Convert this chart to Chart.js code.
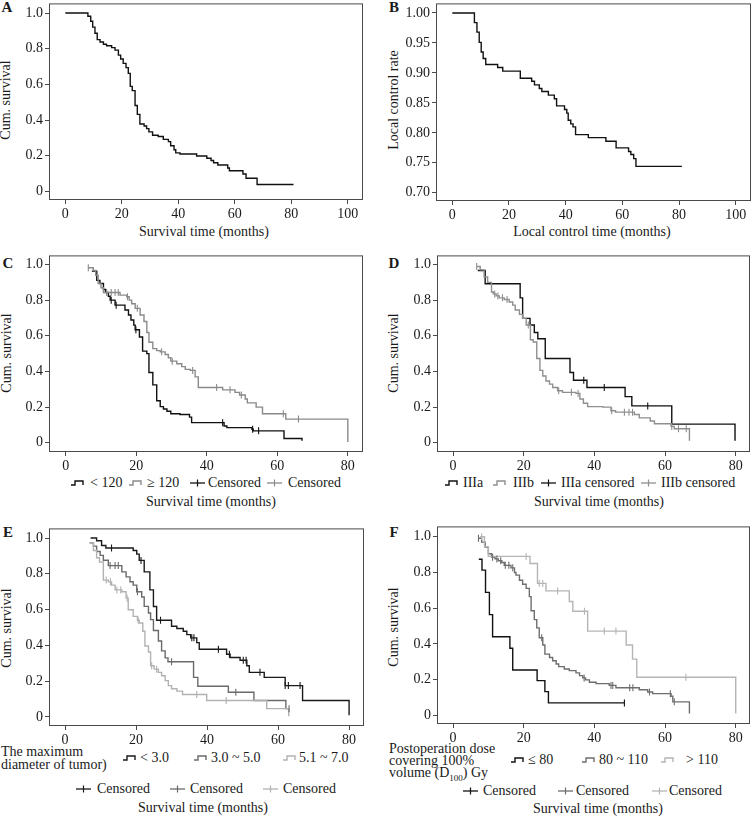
<!DOCTYPE html>
<html><head><meta charset="utf-8">
<script src="https://cdn.jsdelivr.net/npm/chart.js@4.4.1/dist/chart.umd.min.js"></script>
<style>
html,body{margin:0;padding:0;background:#fff;width:752px;height:818px;overflow:hidden;}
body{position:relative;font-family:"Liberation Serif","Times New Roman",serif;font-size:14px;color:#1a1a1a;}
canvas{position:absolute;}
.t{position:absolute;white-space:nowrap;line-height:1;transform:translate(-50%,-50%);}
.l{position:absolute;white-space:nowrap;line-height:1;transform:translateY(-50%);}
.yt{position:absolute;white-space:nowrap;line-height:1;transform:translate(-50%,-50%) rotate(-90deg);}
.lab{position:absolute;font-weight:bold;font-size:15px;line-height:1;transform:translate(-50%,-50%);}
svg.sym{position:absolute;transform:translateY(-50%);overflow:visible;}
sub{font-size:9px;line-height:0;}
</style></head><body>

<!-- panel letters -->
<div class="lab" style="left:7px;top:7px">A</div>
<div class="lab" style="left:394px;top:7px">B</div>
<div class="lab" style="left:8px;top:263px">C</div>
<div class="lab" style="left:394px;top:263px">D</div>
<div class="lab" style="left:8px;top:532px">E</div>
<div class="lab" style="left:394px;top:532px">F</div>

<!-- y axis titles -->
<div class="yt" style="left:6px;top:100px">Cum. survival</div>
<div class="yt" style="left:394px;top:100px">Local control rate</div>
<div class="yt" style="left:7px;top:353px">Cum. survival</div>
<div class="yt" style="left:394px;top:353px">Cum. survival</div>
<div class="yt" style="left:7px;top:628px">Cum. survival</div>
<div class="yt" style="left:394px;top:627px">Cum. survival</div>

<!-- x axis titles -->
<div class="t" style="left:204px;top:232px">Survival time (months)</div>
<div class="t" style="left:592px;top:232px">Local control time (months)</div>
<div class="t" style="left:211px;top:502px">Survival time (months)</div>
<div class="t" style="left:599px;top:502px">Survival time (months)</div>
<div class="t" style="left:203px;top:808px">Survival time (months)</div>
<div class="t" style="left:598px;top:809px">Survival time (months)</div>

<!-- legend C -->
<svg class="sym" width="13" height="10" style="left:71px;top:483px"><polyline points="0,7 4,7 4,3 12,3 12,7" fill="none" stroke="#111" stroke-width="1.4"/></svg>
<div class="l" style="left:90px;top:483px">&lt; 120</div>
<svg class="sym" width="13" height="10" style="left:129px;top:483px"><polyline points="0,7 4,7 4,3 12,3 12,7" fill="none" stroke="#8a8a8a" stroke-width="1.4"/></svg>
<div class="l" style="left:147px;top:483px">≥ 120</div>
<svg class="sym" width="15" height="10" style="left:190px;top:483px"><line x1="0" y1="5" x2="15" y2="5" stroke="#111" stroke-width="1.3"/><line x1="7.5" y1="1.5" x2="7.5" y2="8.5" stroke="#111" stroke-width="1.2"/></svg>
<div class="l" style="left:208px;top:483px">Censored</div>
<svg class="sym" width="15" height="10" style="left:267px;top:483px"><line x1="0" y1="5" x2="15" y2="5" stroke="#8a8a8a" stroke-width="1.3"/><line x1="7.5" y1="1.5" x2="7.5" y2="8.5" stroke="#8a8a8a" stroke-width="1.2"/></svg>
<div class="l" style="left:288px;top:483px">Censored</div>

<!-- legend D -->
<svg class="sym" width="13" height="10" style="left:445px;top:483px"><polyline points="0,7 4,7 4,3 12,3 12,7" fill="none" stroke="#111" stroke-width="1.4"/></svg>
<div class="l" style="left:463px;top:483px">IIIa</div>
<svg class="sym" width="13" height="10" style="left:493px;top:483px"><polyline points="0,7 4,7 4,3 12,3 12,7" fill="none" stroke="#8f8f8f" stroke-width="1.4"/></svg>
<div class="l" style="left:513px;top:483px">IIIb</div>
<svg class="sym" width="15" height="10" style="left:541px;top:483px"><line x1="0" y1="5" x2="15" y2="5" stroke="#111" stroke-width="1.3"/><line x1="7.5" y1="1.5" x2="7.5" y2="8.5" stroke="#111" stroke-width="1.2"/></svg>
<div class="l" style="left:561px;top:483px">IIIa censored</div>
<svg class="sym" width="15" height="10" style="left:641px;top:483px"><line x1="0" y1="5" x2="15" y2="5" stroke="#8f8f8f" stroke-width="1.3"/><line x1="7.5" y1="1.5" x2="7.5" y2="8.5" stroke="#8f8f8f" stroke-width="1.2"/></svg>
<div class="l" style="left:661px;top:483px">IIIb censored</div>

<!-- legend E -->
<div class="l" style="left:1px;top:752px">The maximum</div>
<div class="l" style="left:1px;top:765px">diameter of tumor)</div>
<svg class="sym" width="13" height="10" style="left:123px;top:758px"><polyline points="0,7 4,7 4,3 12,3 12,7" fill="none" stroke="#1a1a1a" stroke-width="1.4"/></svg>
<div class="l" style="left:140px;top:758px">&lt; 3.0</div>
<svg class="sym" width="13" height="10" style="left:194px;top:758px"><polyline points="0,7 4,7 4,3 12,3 12,7" fill="none" stroke="#6a6a6a" stroke-width="1.4"/></svg>
<div class="l" style="left:211px;top:758px">3.0 ~ 5.0</div>
<svg class="sym" width="13" height="10" style="left:283px;top:758px"><polyline points="0,7 4,7 4,3 12,3 12,7" fill="none" stroke="#b2b2b2" stroke-width="1.4"/></svg>
<div class="l" style="left:299px;top:758px">5.1 ~ 7.0</div>
<svg class="sym" width="15" height="10" style="left:76px;top:789px"><line x1="0" y1="5" x2="15" y2="5" stroke="#1a1a1a" stroke-width="1.3"/><line x1="7.5" y1="1.5" x2="7.5" y2="8.5" stroke="#1a1a1a" stroke-width="1.2"/></svg>
<div class="l" style="left:97px;top:789px">Censored</div>
<svg class="sym" width="15" height="10" style="left:170px;top:789px"><line x1="0" y1="5" x2="15" y2="5" stroke="#6a6a6a" stroke-width="1.3"/><line x1="7.5" y1="1.5" x2="7.5" y2="8.5" stroke="#6a6a6a" stroke-width="1.2"/></svg>
<div class="l" style="left:190px;top:789px">Censored</div>
<svg class="sym" width="15" height="10" style="left:263px;top:789px"><line x1="0" y1="5" x2="15" y2="5" stroke="#b2b2b2" stroke-width="1.3"/><line x1="7.5" y1="1.5" x2="7.5" y2="8.5" stroke="#b2b2b2" stroke-width="1.2"/></svg>
<div class="l" style="left:283px;top:789px">Censored</div>

<!-- legend F -->
<div class="l" style="left:389px;top:749px">Postoperation dose</div>
<div class="l" style="left:389px;top:761px">covering 100%</div>
<div class="l" style="left:389px;top:773px">volume (D<sub>100</sub>) Gy</div>
<svg class="sym" width="13" height="10" style="left:511px;top:760px"><polyline points="0,7 4,7 4,3 12,3 12,7" fill="none" stroke="#111" stroke-width="1.4"/></svg>
<div class="l" style="left:528px;top:760px">≤ 80</div>
<svg class="sym" width="13" height="10" style="left:582px;top:760px"><polyline points="0,7 4,7 4,3 12,3 12,7" fill="none" stroke="#6e6e6e" stroke-width="1.4"/></svg>
<div class="l" style="left:599px;top:760px">80 ~ 110</div>
<svg class="sym" width="13" height="10" style="left:661px;top:760px"><polyline points="0,7 4,7 4,3 12,3 12,7" fill="none" stroke="#b5b5b5" stroke-width="1.4"/></svg>
<div class="l" style="left:686px;top:760px">&gt; 110</div>
<svg class="sym" width="15" height="10" style="left:463px;top:791px"><line x1="0" y1="5" x2="15" y2="5" stroke="#111" stroke-width="1.3"/><line x1="7.5" y1="1.5" x2="7.5" y2="8.5" stroke="#111" stroke-width="1.2"/></svg>
<div class="l" style="left:483px;top:791px">Censored</div>
<svg class="sym" width="15" height="10" style="left:558px;top:791px"><line x1="0" y1="5" x2="15" y2="5" stroke="#6e6e6e" stroke-width="1.3"/><line x1="7.5" y1="1.5" x2="7.5" y2="8.5" stroke="#6e6e6e" stroke-width="1.2"/></svg>
<div class="l" style="left:576px;top:791px">Censored</div>
<svg class="sym" width="15" height="10" style="left:652px;top:791px"><line x1="0" y1="5" x2="15" y2="5" stroke="#b5b5b5" stroke-width="1.3"/><line x1="7.5" y1="1.5" x2="7.5" y2="8.5" stroke="#b5b5b5" stroke-width="1.2"/></svg>
<div class="l" style="left:669px;top:791px">Censored</div>

<script>
// ---------- tick labels ----------
const survTicks = [0, 0.2, 0.4, 0.6, 0.8, 1.0];
const survTickLabels = ['0', '0.2', '0.4', '0.6', '0.8', '1.0'];
const lcTicks = [0.70, 0.75, 0.80, 0.85, 0.90, 0.95, 1.00];
const lcTickLabels = ['0.70', '0.75', '0.80', '0.85', '0.90', '0.95', '1.00'];
const monthTicks100 = [0, 20, 40, 60, 80, 100];
const monthTicks80 = [0, 20, 40, 60, 80];

// ---------- A: overall survival [time, cum. survival] ----------
const A_all = [[0,1.0],[8.0,0.982],[9.0,0.954],[9.7,0.921],[10.5,0.887],[11.3,0.851],[12.3,0.838],[13.5,0.825],[14.6,0.817],[16.4,0.806],[17.6,0.792],[18.8,0.764],[19.6,0.742],[20.5,0.718],[21.5,0.694],[22.3,0.662],[23.0,0.589],[23.7,0.565],[24.7,0.482],[25.5,0.432],[26.4,0.378],[27.9,0.367],[28.8,0.352],[29.6,0.334],[30.9,0.315],[32.9,0.308],[34.7,0.292],[36.5,0.279],[37.3,0.256],[38.5,0.234],[39.1,0.216],[40.6,0.210],[46.5,0.199],[50.1,0.186],[51.6,0.173],[52.5,0.161],[54.0,0.148],[57.5,0.131],[58.1,0.116],[62.9,0.098],[64.0,0.074],[67.9,0.039],[80.8,0.039]];

// ---------- B: local control [time, rate] ----------
const B_all = [[0,1.0],[7.8,0.984],[8.7,0.968],[9.5,0.951],[10.2,0.935],[10.9,0.924],[11.8,0.914],[16.0,0.909],[17.8,0.903],[24.0,0.891],[28.0,0.886],[29.0,0.880],[30.7,0.874],[31.6,0.869],[33.9,0.863],[36.0,0.857],[36.8,0.845],[39.6,0.839],[40.4,0.833],[40.9,0.821],[41.8,0.815],[42.6,0.810],[43.5,0.797],[48.0,0.792],[54.2,0.786],[57.8,0.775],[62.2,0.769],[63.0,0.764],[64.0,0.757],[64.8,0.744],[81.0,0.744]];

// ---------- C: by dose group ----------
const C_lt120 = [[7.4,0.963],[8.8,0.911],[9.7,0.893],[10.7,0.860],[11.3,0.843],[12.1,0.822],[12.6,0.800],[14.0,0.772],[16.8,0.745],[17.8,0.717],[18.5,0.689],[19.3,0.660],[19.7,0.634],[20.9,0.593],[21.8,0.514],[23.0,0.500],[23.6,0.394],[24.7,0.325],[25.8,0.236],[26.8,0.203],[27.7,0.190],[28.7,0.177],[29.8,0.163],[32.4,0.159],[35.1,0.144],[35.7,0.113],[44.9,0.094],[45.7,0.085],[52.8,0.076],[53.2,0.067],[61.9,0.024],[67.0,0.011]];
const C_lt120_cens = [12.9, 14.3, 19.9, 44.5, 53.0, 54.7];
const C_ge120 = [[6.4,0.982],[7.8,0.967],[8.5,0.940],[9.2,0.893],[10.0,0.870],[10.7,0.843],[15.4,0.828],[17.3,0.819],[18.0,0.800],[18.7,0.780],[19.7,0.754],[21.1,0.717],[22.2,0.680],[23.0,0.619],[23.6,0.564],[24.7,0.528],[25.8,0.517],[26.8,0.510],[28.2,0.495],[29.1,0.477],[29.8,0.458],[31.5,0.443],[32.9,0.427],[33.9,0.412],[35.3,0.406],[36.7,0.370],[37.6,0.310],[44.5,0.297],[48.0,0.283],[49.3,0.268],[50.9,0.246],[51.5,0.224],[54.0,0.200],[55.8,0.163],[62.4,0.133],[80.0,0.005]];
const C_ge120_cens = [6.4, 11.6, 12.9, 14.0, 14.9, 17.5, 20.3, 27.2, 30.2, 36.0, 42.8, 46.6, 49.8, 61.7, 66.0];

// ---------- D: by stage ----------
const D_IIIa = [[7.0,0.966],[9.1,0.892],[19.0,0.813],[19.7,0.698],[21.8,0.661],[23.0,0.619],[24.0,0.584],[26.1,0.473],[33.1,0.394],[34.1,0.351],[37.9,0.310],[48.7,0.259],[50.6,0.207],[61.9,0.105],[79.8,0.011]];
const D_IIIa_cens = [37.0, 42.8, 55.1];
const D_IIIb = [[6.7,0.989],[7.7,0.970],[8.8,0.930],[9.8,0.900],[10.9,0.846],[11.4,0.835],[12.2,0.824],[13.1,0.813],[14.5,0.804],[15.9,0.790],[16.9,0.772],[17.6,0.745],[18.8,0.720],[19.7,0.698],[20.7,0.661],[21.9,0.578],[22.7,0.565],[23.7,0.473],[24.6,0.406],[25.4,0.375],[26.3,0.347],[27.3,0.329],[28.2,0.310],[29.6,0.292],[31.0,0.283],[34.8,0.277],[35.9,0.246],[36.9,0.222],[38.1,0.203],[42.4,0.200],[44.7,0.180],[46.0,0.172],[51.3,0.159],[52.7,0.140],[55.8,0.122],[57.0,0.107],[61.7,0.092],[62.6,0.079],[66.9,0.011]];
const D_IIIb_cens = [6.7, 11.8, 12.7, 14.0, 15.3, 21.3, 29.9, 33.5, 35.4, 44.9, 48.5, 49.8, 50.8, 61.9, 63.8, 66.0];

// ---------- E: by tumor diameter ----------
const E_lt3 = [[7.2,1.0],[8.9,0.985],[10.3,0.958],[11.5,0.944],[19.2,0.930],[20.2,0.910],[20.9,0.875],[22.3,0.811],[23.9,0.710],[24.9,0.617],[25.8,0.540],[30.0,0.507],[31.5,0.494],[33.3,0.479],[34.3,0.460],[35.4,0.442],[37.1,0.415],[37.8,0.378],[45.5,0.350],[46.5,0.332],[49.3,0.317],[51.2,0.286],[51.9,0.249],[56.1,0.221],[62.0,0.175],[66.9,0.092],[80.0,0.009]];
const E_lt3_cens = [13.1, 21.4, 26.9, 35.7, 36.3, 43.2, 46.3, 50.2, 51.0, 54.9, 62.0, 62.9, 66.2];
const E_3to5 = [[6.9,0.973],[8.0,0.955],[8.9,0.925],[9.9,0.903],[10.8,0.876],[12.2,0.846],[16.0,0.811],[17.2,0.783],[18.3,0.756],[19.2,0.737],[20.2,0.700],[21.6,0.670],[22.3,0.618],[23.5,0.581],[24.1,0.544],[24.9,0.483],[26.3,0.424],[27.2,0.369],[28.2,0.330],[29.0,0.308],[36.2,0.221],[37.4,0.171],[46.0,0.138],[53.2,0.092],[62.2,0.046],[63.1,0.046]];
const E_3to5_cens = [12.7, 14.1, 15.0, 20.4, 30.0, 48.1, 63.1];
const E_5to7 = [[6.9,0.973],[8.0,0.930],[8.9,0.890],[9.7,0.866],[10.8,0.765],[12.2,0.755],[13.1,0.737],[14.1,0.710],[16.0,0.700],[17.2,0.664],[17.8,0.599],[19.2,0.562],[20.4,0.540],[20.9,0.525],[21.9,0.479],[22.5,0.396],[23.5,0.363],[24.1,0.286],[25.1,0.267],[26.3,0.249],[27.2,0.230],[28.2,0.203],[29.1,0.175],[30.0,0.157],[31.5,0.144],[33.1,0.125],[39.9,0.092],[56.8,0.046],[63.0,0.004]];
const E_5to7_cens = [11.6, 12.8, 14.6, 15.7, 17.5, 20.6, 24.4, 25.8, 37.1, 45.4];

// ---------- F: by D100 dose ----------
const F_le80 = [[7.3,0.874],[8.2,0.813],[9.2,0.689],[10.3,0.564],[11.2,0.440],[16.1,0.376],[16.9,0.254],[23.8,0.195],[26.0,0.133],[27.0,0.070],[48.5,0.070]];
const F_le80_cens = [48.5];
const F_80to110 = [[7.2,0.992],[8.1,0.970],[9.1,0.942],[10.0,0.905],[10.9,0.886],[11.9,0.876],[12.8,0.866],[13.8,0.856],[14.5,0.840],[16.4,0.826],[17.4,0.800],[17.8,0.785],[18.8,0.757],[19.7,0.734],[20.7,0.711],[21.6,0.665],[22.1,0.586],[23.0,0.536],[23.7,0.490],[24.4,0.435],[25.4,0.394],[26.0,0.343],[27.3,0.324],[28.2,0.306],[29.2,0.288],[29.9,0.273],[31.5,0.260],[32.9,0.251],[34.8,0.238],[35.8,0.223],[36.7,0.210],[37.5,0.199],[38.6,0.186],[40.5,0.178],[44.2,0.168],[46.1,0.155],[52.7,0.144],[55.1,0.131],[56.5,0.122],[61.7,0.107],[62.2,0.076],[66.9,0.011]];
const F_80to110_cens = [7.2, 11.2, 12.4, 13.5, 14.8, 15.8, 16.9, 25.1, 37.1, 44.7, 45.2, 50.0, 50.9, 55.6, 61.5, 62.6];
const F_gt110 = [[7.6,1.0],[8.9,0.945],[10.0,0.890],[21.8,0.850],[23.9,0.739],[26.3,0.697],[32.9,0.638],[33.9,0.583],[38.1,0.472],[49.0,0.394],[50.8,0.315],[52.0,0.214],[80.0,0.011]];
const F_gt110_cens = [8.1, 20.7, 24.4, 25.4, 29.6, 37.2, 42.8, 46.1, 65.9];

// ---------- drawing ----------
const FONT = '"Liberation Serif", "Times New Roman", serif';

function survAt(curve, t) {
  let s = curve[0][1];
  for (const [ti, si] of curve) { if (ti <= t) s = si; else break; }
  return s;
}

const framePlugin = {
  id: 'frame',
  beforeDatasetsDraw(chart) {
    const {ctx, chartArea: a} = chart;
    ctx.save();
    ctx.strokeStyle = '#4a4a4a';
    ctx.lineWidth = 1;
    ctx.strokeRect(a.left + 0.5, a.top + 0.5, a.right - a.left - 1, a.bottom - a.top - 1);
    ctx.restore();
  }
};

function makeChart(p) {
  const padL = 46, padT = 8, padR = 2, padB = 26;
  const w = p.box.r - p.box.l, h = p.box.b - p.box.t;
  const cv = document.createElement('canvas');
  cv.width = w + padL + padR;
  cv.height = h + padT + padB;
  cv.style.left = (p.box.l - padL) + 'px';
  cv.style.top = (p.box.t - padT) + 'px';
  document.body.appendChild(cv);

  const datasets = [];
  p.series.forEach(s => {
    datasets.push({
      type: 'line', data: s.curve.map(([x, y]) => ({x, y})), stepped: true,
      borderColor: s.color, borderWidth: 1.4, pointRadius: 0, fill: false, order: 2
    });
    if (s.cens && s.cens.length) {
      datasets.push({
        type: 'line', showLine: false,
        data: s.cens.map(t => ({x: t, y: survAt(s.curve, t)})),
        pointStyle: 'line', pointRotation: 90, pointRadius: 3.5, pointBorderWidth: 1.1,
        pointBorderColor: s.color, borderColor: s.color, pointBackgroundColor: s.color, order: 1
      });
    }
  });

  const tickFont = {family: FONT, size: 14};
  new Chart(cv, {
    type: 'line',
    data: {datasets},
    options: {
      responsive: false, animation: false, devicePixelRatio: 1, events: [],
      layout: {padding: {left: 0, top: padT, right: padR, bottom: 0}, autoPadding: false},
      plugins: {legend: {display: false}, tooltip: {enabled: false}},
      scales: {
        x: {
          type: 'linear', min: p.x[0], max: p.x[1],
          border: {display: false},
          grid: {display: true, drawOnChartArea: false, drawTicks: true, tickLength: 4, color: '#4a4a4a', lineWidth: 1},
          ticks: {font: tickFont, color: '#1a1a1a', padding: 2, maxRotation: 0, autoSkip: false,
                  callback: (v, i) => String(p.xTicks[i])},
          afterBuildTicks: s => { s.ticks = p.xTicks.map(v => ({value: v})); },
          afterFit: s => { s.height = padB; }
        },
        y: {
          type: 'linear', min: p.y[0], max: p.y[1],
          border: {display: false},
          grid: {display: true, drawOnChartArea: false, drawTicks: true, tickLength: 4, color: '#4a4a4a', lineWidth: 1},
          ticks: {font: tickFont, color: '#1a1a1a', padding: 2, autoSkip: false,
                  callback: (v, i) => p.yLabels[i]},
          afterBuildTicks: s => { s.ticks = p.yTicks.map(v => ({value: v})); },
          afterFit: s => { s.width = padL; }
        }
      }
    },
    plugins: [framePlugin]
  });
}

makeChart({box: {l: 49, t: 1, r: 363, b: 200}, x: [-5.77, 105.4], y: [-0.048, 1.054],
  xTicks: monthTicks100, yTicks: survTicks, yLabels: survTickLabels,
  series: [{curve: A_all, color: '#111'}]});

makeChart({box: {l: 436, t: 1, r: 751, b: 201}, x: [-5.75, 105.4], y: [0.6863, 1.016],
  xTicks: monthTicks100, yTicks: lcTicks, yLabels: lcTickLabels,
  series: [{curve: B_all, color: '#111'}]});

makeChart({box: {l: 49, t: 253, r: 363, b: 452}, x: [-4.74, 84.3], y: [-0.0515, 1.051],
  xTicks: monthTicks80, yTicks: survTicks, yLabels: survTickLabels,
  series: [{curve: C_ge120, cens: C_ge120_cens, color: '#8a8a8a'},
           {curve: C_lt120, cens: C_lt120_cens, color: '#111'}]});

makeChart({box: {l: 437, t: 253, r: 750, b: 452}, x: [-4.53, 84.04], y: [-0.0515, 1.051],
  xTicks: monthTicks80, yTicks: survTicks, yLabels: survTickLabels,
  series: [{curve: D_IIIb, cens: D_IIIb_cens, color: '#8f8f8f'},
           {curve: D_IIIa, cens: D_IIIa_cens, color: '#111'}]});

makeChart({box: {l: 49, t: 526, r: 364, b: 726}, x: [-4.51, 84.2], y: [-0.051, 1.054],
  xTicks: monthTicks80, yTicks: survTicks, yLabels: survTickLabels,
  series: [{curve: E_5to7, cens: E_5to7_cens, color: '#b2b2b2'},
           {curve: E_3to5, cens: E_3to5_cens, color: '#6a6a6a'},
           {curve: E_lt3, cens: E_lt3_cens, color: '#1a1a1a'}]});

makeChart({box: {l: 437, t: 524, r: 750, b: 724}, x: [-4.53, 84.04], y: [-0.048, 1.058],
  xTicks: monthTicks80, yTicks: survTicks, yLabels: survTickLabels,
  series: [{curve: F_gt110, cens: F_gt110_cens, color: '#b5b5b5'},
           {curve: F_80to110, cens: F_80to110_cens, color: '#6e6e6e'},
           {curve: F_le80, cens: F_le80_cens, color: '#111'}]});
</script>
</body></html>
